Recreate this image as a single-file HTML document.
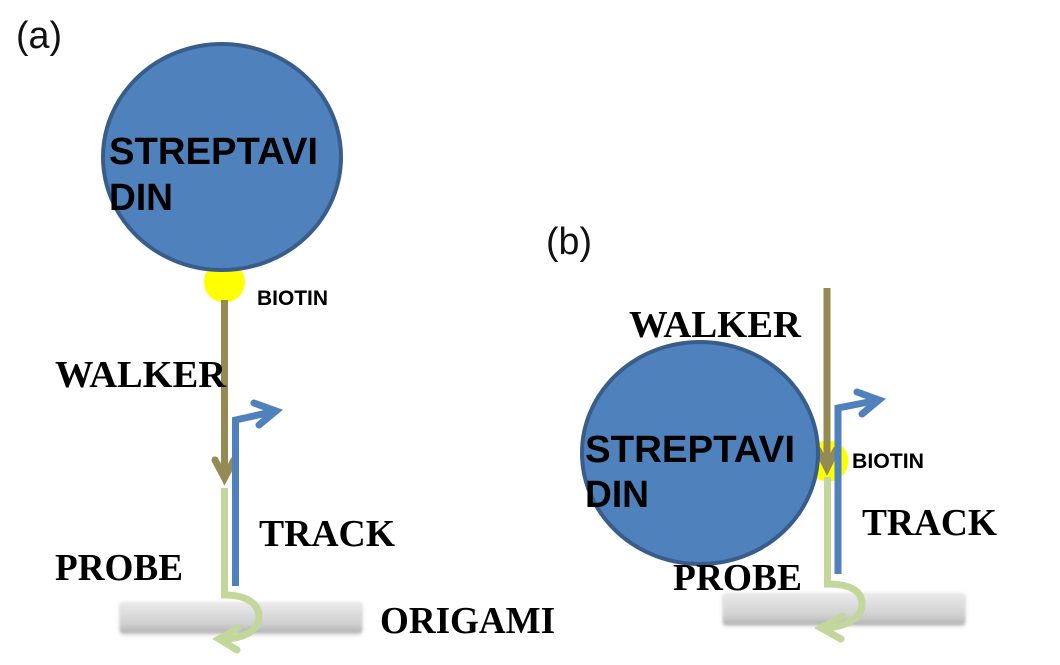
<!DOCTYPE html>
<html><head><meta charset="utf-8"><style>
html,body{margin:0;padding:0;background:#fff;width:1060px;height:665px;overflow:hidden}
svg{display:block}
.t{font-family:"Liberation Serif",serif;font-weight:bold;font-size:38px;fill:#000}
.h{font-family:"Liberation Sans",sans-serif;font-weight:bold;font-size:38px;fill:#000}
.b{font-family:"Liberation Sans",sans-serif;font-weight:bold;font-size:21px;fill:#000}
.p{font-family:"Liberation Sans",sans-serif;font-size:38px;fill:#111}
</style></head><body>
<svg width="1060" height="665" viewBox="0 0 1060 665" xmlns="http://www.w3.org/2000/svg">
<defs>
<linearGradient id="g" x1="0" y1="0" x2="0" y2="1"><stop offset="0" stop-color="#ebebeb"/><stop offset="0.7" stop-color="#d0d0d0"/><stop offset="1" stop-color="#b4b4b4"/></linearGradient>
<filter id="bl" x="-5%" y="-30%" width="110%" height="160%"><feGaussianBlur stdDeviation="1.200"/></filter>
<filter id="sh" x="-5%" y="-30%" width="110%" height="160%"><feGaussianBlur stdDeviation="2.500"/></filter>
</defs>

<text x="16" y="48" class="p" textLength="46" lengthAdjust="spacingAndGlyphs">(a)</text>
<text x="546" y="254" class="p" textLength="46" lengthAdjust="spacingAndGlyphs">(b)</text>

<!-- (a) -->
<rect x="120" y="604" width="242" height="31" rx="3" fill="#d8d8d8" filter="url(#sh)"/>
<rect x="120" y="602" width="242" height="31" rx="3" fill="url(#g)" filter="url(#bl)"/>
<circle cx="224.500" cy="282" r="20.500" fill="#ffff00"/>
<ellipse cx="222" cy="157" rx="119" ry="113" fill="#4f81bd" stroke="#385d8a" stroke-width="4"/>
<text x="109" y="164" class="h" textLength="209" lengthAdjust="spacingAndGlyphs">STREPTAVI</text>
<text x="109" y="210" class="h" textLength="64" lengthAdjust="spacingAndGlyphs">DIN</text>
<text x="257" y="305" class="b" textLength="71" lengthAdjust="spacingAndGlyphs">BIOTIN</text>
<path d="M224.500 300V478" stroke="#948a54" stroke-width="7" fill="none"/>
<path d="M215 460L224.500 478L234 460" stroke="#948a54" stroke-width="7" fill="none" stroke-linecap="round"/>
<path d="M224 484L216 466H233Z" fill="#948a54"/>
<path d="M235.500 586V420L276 411" stroke="#4f81bd" stroke-width="7" fill="none"/>
<path d="M254 403L276 411L259 425" stroke="#4f81bd" stroke-width="7" fill="none" stroke-linecap="round"/>
<path d="M224.500 488V595C250 595 259 606 259 617C259 632 240 640 219 639" stroke="#c3d69b" stroke-width="7" fill="none"/>
<path d="M238 628L219 639L237 650" stroke="#c3d69b" stroke-width="7" fill="none" stroke-linecap="round"/>
<text x="55" y="387" class="t" textLength="171" lengthAdjust="spacingAndGlyphs">WALKER</text>
<text x="259" y="546" class="t" textLength="136" lengthAdjust="spacingAndGlyphs">TRACK</text>
<text x="55" y="580" class="t" textLength="128" lengthAdjust="spacingAndGlyphs">PROBE</text>
<text x="380" y="633" class="t" textLength="175" lengthAdjust="spacingAndGlyphs">ORIGAMI</text>

<!-- (b) -->
<rect x="723" y="595" width="242" height="31" rx="3" fill="#d8d8d8" filter="url(#sh)"/>
<rect x="723" y="593" width="242" height="32" rx="3" fill="url(#g)" filter="url(#bl)"/>
<circle cx="828" cy="461" r="20.500" fill="#ffff00"/>
<path d="M827 288V468" stroke="#948a54" stroke-width="7" fill="none"/>
<path d="M818 450L827 468L836 450" stroke="#948a54" stroke-width="7" fill="none" stroke-linecap="round"/>
<path d="M827 473L819 456H835Z" fill="#948a54"/>
<ellipse cx="700" cy="453" rx="118" ry="111" fill="#4f81bd" stroke="#385d8a" stroke-width="4"/>
<text x="585" y="462" class="h" textLength="210" lengthAdjust="spacingAndGlyphs">STREPTAVI</text>
<text x="585" y="507" class="h" textLength="64" lengthAdjust="spacingAndGlyphs">DIN</text>
<text x="852" y="468" class="b" textLength="72" lengthAdjust="spacingAndGlyphs">BIOTIN</text>
<path d="M838 574V408L879 400" stroke="#4f81bd" stroke-width="7" fill="none"/>
<path d="M857 392L879 400L862 414" stroke="#4f81bd" stroke-width="7" fill="none" stroke-linecap="round"/>
<path d="M827.500 477V584C852 584 862 592 862 604C862 620 842 628 821 628" stroke="#c3d69b" stroke-width="7" fill="none"/>
<path d="M842 616L821 628L841 639" stroke="#c3d69b" stroke-width="7" fill="none" stroke-linecap="round"/>
<text x="629" y="337" class="t" textLength="172" lengthAdjust="spacingAndGlyphs">WALKER</text>
<text x="862" y="535" class="t" textLength="135" lengthAdjust="spacingAndGlyphs">TRACK</text>
<text x="673" y="590" class="t" textLength="129" lengthAdjust="spacingAndGlyphs">PROBE</text>
</svg>
</body></html>
